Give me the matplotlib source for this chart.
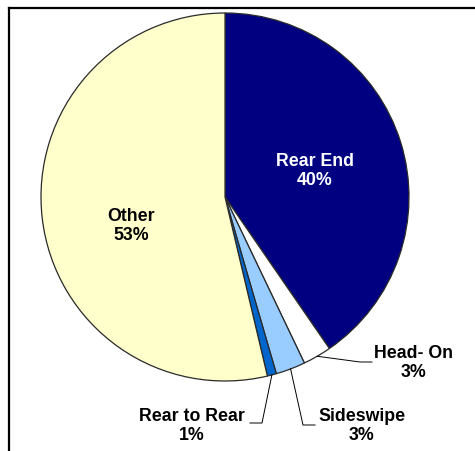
import matplotlib
matplotlib.use("Agg")
import numpy as np
import matplotlib.pyplot as plt
from matplotlib.lines import Line2D

categories = ["Rear End", "Head- On", "Sideswipe", "Rear to Rear", "Other"]
shares = [40.4, 2.5, 2.6, 0.8, 53.7]
pct_labels = ["40%", "3%", "3%", "1%", "53%"]
colors = ["#000080", "#FFFFFF", "#99CCFF", "#0066CC", "#FFFFCC"]

W, H = 475, 451
plt.rcParams['font.family'] = ['Liberation Sans', 'DejaVu Sans']

fig = plt.figure(figsize=(W / 100, H / 100), dpi=100)
ax = fig.add_axes([0, 0, 1, 1])

cx, cy, r = 225, H - 197, 184
wedges, _ = ax.pie(shares, colors=colors, startangle=90, counterclock=False,
                   center=(cx, cy), radius=r,
                   wedgeprops=dict(edgecolor="#2a2a2a", linewidth=0.9))
ax.set_xlim(0, W)
ax.set_ylim(0, H)
ax.set_aspect("equal")
ax.axis("off")

# frame (top and left only, like the source)
fig.add_artist(Line2D([9 / W, 1], [1 - 8 / H, 1 - 8 / H], color="black", lw=1.6))
fig.add_artist(Line2D([9 / W, 9 / W], [0, 1 - 8 / H], color="black", lw=1.6))

fs = 12.8
ls = 1.12
# inside labels
ax.text(315, H - 171, f"{categories[0]}\n{pct_labels[0]}", color="white",
        fontsize=fs, fontweight="bold", ha="center", va="center", linespacing=ls)
ax.text(131, H - 226, f"{categories[4]}\n{pct_labels[4]}", color="black",
        fontsize=fs, fontweight="bold", ha="center", va="center", linespacing=ls)

# outside labels with leader lines: (text pos, elbow pos, end pos)
outside = {
    1: ((414, 363), (360, 362), (372, 362)),
    2: ((362, 426), (303, 425), (315, 425)),
    3: ((192, 426), (262, 423), (250, 423)),
}
for i, (tpos, elbow, end) in outside.items():
    w = wedges[i]
    mid = np.deg2rad((w.theta1 + w.theta2) / 2)
    ex, ey = cx + r * np.cos(mid), cy + r * np.sin(mid)
    ax.plot([ex, elbow[0], end[0]], [ey, H - elbow[1], H - end[1]],
            color="black", lw=0.7)
    ax.text(tpos[0], H - tpos[1], f"{categories[i]}\n{pct_labels[i]}",
            fontsize=fs, fontweight="bold", ha="center", va="center",
            linespacing=ls)

fig.savefig("out.png", dpi=100)
